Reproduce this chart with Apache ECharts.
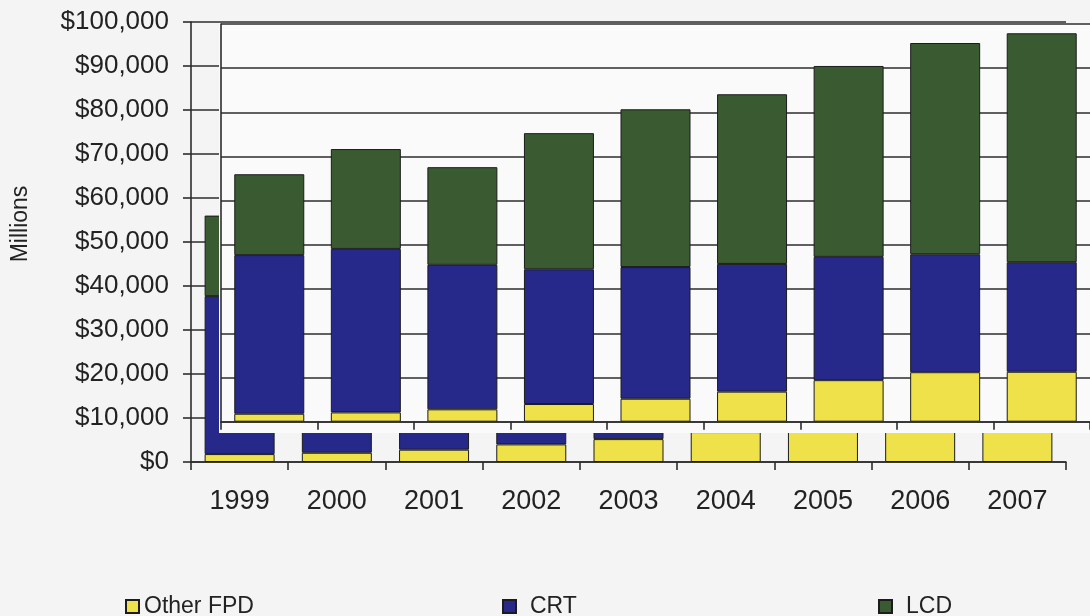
<!DOCTYPE html>
<html>
<head>
<meta charset="utf-8">
<script src="https://cdn.jsdelivr.net/npm/echarts@6/dist/echarts.min.js"></script>
<style>
  html, body { margin: 0; padding: 0; background: #f4f4f4; }
  #main { width: 1090px; height: 616px; }
</style>
</head>
<body>
<div id="main"></div>
<script>
// display market by technology, US$ millions
const years = ['1999', '2000', '2001', '2002', '2003', '2004', '2005', '2006', '2007'];
const otherFpd = [1800, 2100, 2800, 4000, 5200, 6800, 9400, 11200, 11300];
const crt = [35900, 37000, 32700, 30500, 29800, 28900, 27900, 26700, 24800];
const lcd = [18300, 22600, 22100, 30800, 35700, 38400, 43200, 47800, 51800];

const seriesDefs = [
  { name: 'Other FPD', data: otherFpd, color: '#efe14a' },
  { name: 'CRT', data: crt, color: '#26288a' },
  { name: 'LCD', data: lcd, color: '#3a5b32' }
];

const FONT = '"Liberation Sans", Arial, sans-serif';
const textCol = '#222';
const dark = { color: '#2c2c2c', width: 1.6 };

function money(v) {
  return '$' + v.toLocaleString('en-US');
}

// the scanned page has the plot area pasted a little off its axes,
// so the same data is drawn twice: once on the real axes and once on the shifted copy
function makeSeries(idx, z) {
  return seriesDefs.map(function (s) {
    return {
      type: 'bar',
      name: s.name,
      stack: 'total' + idx,
      xAxisIndex: idx,
      yAxisIndex: idx,
      data: s.data,
      barWidth: 70,
      z: z,
      itemStyle: { color: s.color, borderColor: '#1c1c1c', borderWidth: 1 },
      emphasis: { disabled: true }
    };
  });
}

const legendBase = {
  top: 590,
  icon: 'rect',
  itemWidth: 13,
  itemHeight: 13,
  selectedMode: false,
  textStyle: { color: textCol, fontSize: 23, fontFamily: FONT }
};

const chart = echarts.init(document.getElementById('main'));
chart.setOption({
  backgroundColor: '#f4f4f4',
  animation: false,
  grid: [
    { left: 191, top: 22, width: 875, height: 440 },
    { left: 221, top: 24, width: 875, height: 397.7 }
  ],
  xAxis: [
    {
      type: 'category', gridIndex: 0, data: years, z: 0,
      axisLine: { show: true, lineStyle: dark },
      axisTick: { show: true, length: 8, lineStyle: dark },
      axisLabel: { interval: 0, margin: 26, color: textCol, fontSize: 27, fontFamily: FONT }
    },
    {
      type: 'category', gridIndex: 1, data: years, z: 12,
      axisLine: { show: true, lineStyle: dark },
      axisTick: { show: true, length: 8, lineStyle: dark },
      axisLabel: { show: false }
    }
  ],
  yAxis: [
    {
      type: 'value', gridIndex: 0, min: 0, max: 100000, interval: 10000, z: 0,
      axisLine: { show: true, lineStyle: dark },
      axisTick: { show: true, length: 8, lineStyle: dark },
      splitLine: { show: true, lineStyle: dark },
      axisLabel: { margin: 22, color: textCol, fontSize: 26, fontFamily: FONT, formatter: money }
    },
    {
      type: 'value', gridIndex: 1, min: 0, max: 90000, interval: 10000, z: 12,
      axisLine: { show: true, lineStyle: dark },
      axisTick: { show: false },
      splitLine: { show: true, lineStyle: dark },
      axisLabel: { show: false }
    }
  ],
  legend: [
    Object.assign({}, legendBase, { left: 120, data: ['Other FPD'] }),
    Object.assign({}, legendBase, { left: 497, data: ['CRT'], textStyle: Object.assign({}, legendBase.textStyle, { padding: [0, 0, 0, 9] }) }),
    Object.assign({}, legendBase, { left: 873, data: ['LCD'], textStyle: Object.assign({}, legendBase.textStyle, { padding: [0, 0, 0, 9] }) })
  ],
  graphic: [
    {
      type: 'rect', z: 5, silent: true,
      shape: { x: 219, y: 23, width: 880, height: 410 },
      style: { fill: '#fafafa' }
    },
    {
      type: 'text', z: 20, x: 21, y: 224, rotation: Math.PI / 2,
      style: { text: 'Millions', fill: textCol, font: '23px ' + FONT, align: 'center', verticalAlign: 'middle' }
    }
  ],
  series: makeSeries(0, 1).concat(makeSeries(1, 13))
});
</script>
</body>
</html>
